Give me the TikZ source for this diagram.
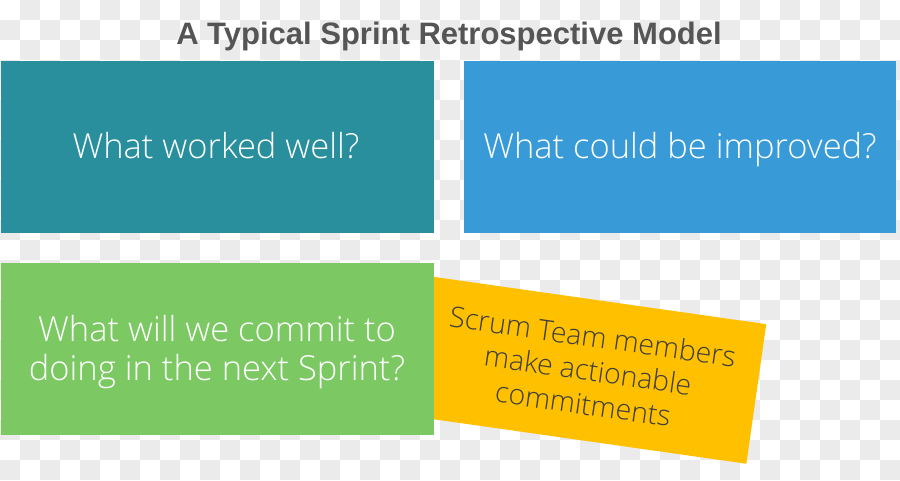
\documentclass[tikz,border=0pt]{standalone}
\usepackage{fontspec}
\setmainfont{Open Sans Light}
\newfontfamily\titlefont{Liberation Sans}
\definecolor{chk}{HTML}{EBEBEB}
\definecolor{tealc}{HTML}{2A8F9C}
\definecolor{bluec}{HTML}{389BD8}
\definecolor{greenc}{HTML}{7CC964}
\definecolor{yellowc}{HTML}{FFC000}
\definecolor{titlec}{HTML}{555555}
\definecolor{ytext}{HTML}{3F3F3F}
\tikzset{
  card/.style={anchor=north west, inner sep=0pt, minimum height=172pt},
  cardtext/.style={anchor=base, inner sep=0pt, text=white,
    font=\fontsize{34.5}{40}\selectfont},
  note/.style={fill=yellowc, inner sep=0pt, align=center, text=ytext,
    font=\fontsize{28.5}{34}\selectfont}
}
\begin{document}
\begin{tikzpicture}[x=1pt,y=-1pt]
\useasboundingbox (0,0) rectangle (900,480);
\fill[white] (0,0) rectangle (900,480);
\foreach \j in {0,...,23}{
  \foreach \i in {0,...,44}{
    \pgfmathtruncatemacro\s{mod(\i+\j,2)}
    \ifnum\s=1 \fill[chk] (20*\i,20*\j) rectangle ++(20,20);\fi
  }
}
\node[note, rotate=-8.1, minimum width=340pt, minimum height=141pt] (n) at (588,370)
  {Scrum Team members\\make actionable\\commitments};
\node[card, fill=tealc, minimum width=433pt] (a) at (1,61) {};
\node[cardtext] (at) at (216,158) {What worked well?};
\node[card, fill=bluec, minimum width=432pt] (b) at (464,61) {};
\node[cardtext] (bt) at (680,158) {What could be improved?};
\node[card, fill=greenc, minimum width=433pt] (c) at (1,263) {};
\node[cardtext] (c1) at (217,341) {What will we commit to};
\node[cardtext] (c2) at (217,380) {doing in the next Sprint?};
\node[text=titlec, anchor=base, inner sep=0pt, font=\titlefont\bfseries\fontsize{31}{34}\selectfont] (t) at (449,44)
  {A Typical Sprint Retrospective Model};
\end{tikzpicture}
\end{document}
